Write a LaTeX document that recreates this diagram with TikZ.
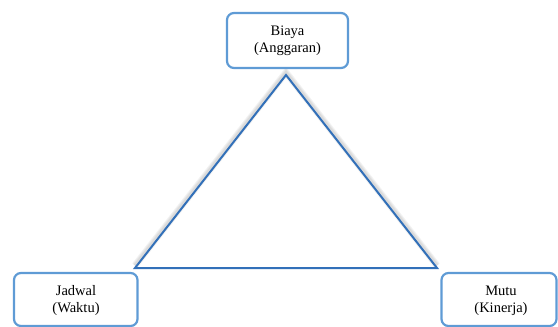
\documentclass[tikz,border=0pt]{standalone}
\usepackage{fontspec}
\setmainfont{Liberation Serif}
\definecolor{boxblue}{RGB}{95,155,213}
\definecolor{triblue}{RGB}{50,112,185}
\tikzset{
  boxframe/.style={draw=boxblue, line width=2.2pt, rounded corners=7pt},
  label/.style={font=\fontsize{14.5}{17}\selectfont, anchor=base, inner sep=0pt},
  glow/.style={line width=#1, draw=black, draw opacity=0.05, line join=miter},
}
\begin{document}
\begin{tikzpicture}[x=1pt,y=-1pt]
\useasboundingbox (0,0) rectangle (558,327);
\clip (0,0) rectangle (558,327);
% triangle vertices
\coordinate (A) at (286,75);
\coordinate (B) at (135,268);
\coordinate (C) at (437,268);
% soft shadow on the outer side of the slanted edges
\foreach \w in {3,5,7} {
  \draw[glow=\w pt] ([shift={(0,-2.5)}]B) -- ([shift={(0,-2.5)}]A) -- ([shift={(0,-2.5)}]C);
}
\draw[triblue, line width=2pt, line join=miter] (A) -- (B) -- (C) -- cycle;
% boxes
\draw[boxframe] (227,13) rectangle (348,68);
\node[label] (biaya1) at (287.5,35) {Biaya};
\node[label] (biaya2) at (287.5,52) {(Anggaran)};
\draw[boxframe] (14,273) rectangle (137.5,326);
\node[label] (jadwal1) at (76,295) {Jadwal};
\node[label] (jadwal2) at (76,312.5) {(Waktu)};
\draw[boxframe] (441.5,273) rectangle (556.5,326);
\node[label] (mutu1) at (501,295) {Mutu};
\node[label] (mutu2) at (501,312) {(Kinerja)};
\end{tikzpicture}
\end{document}
